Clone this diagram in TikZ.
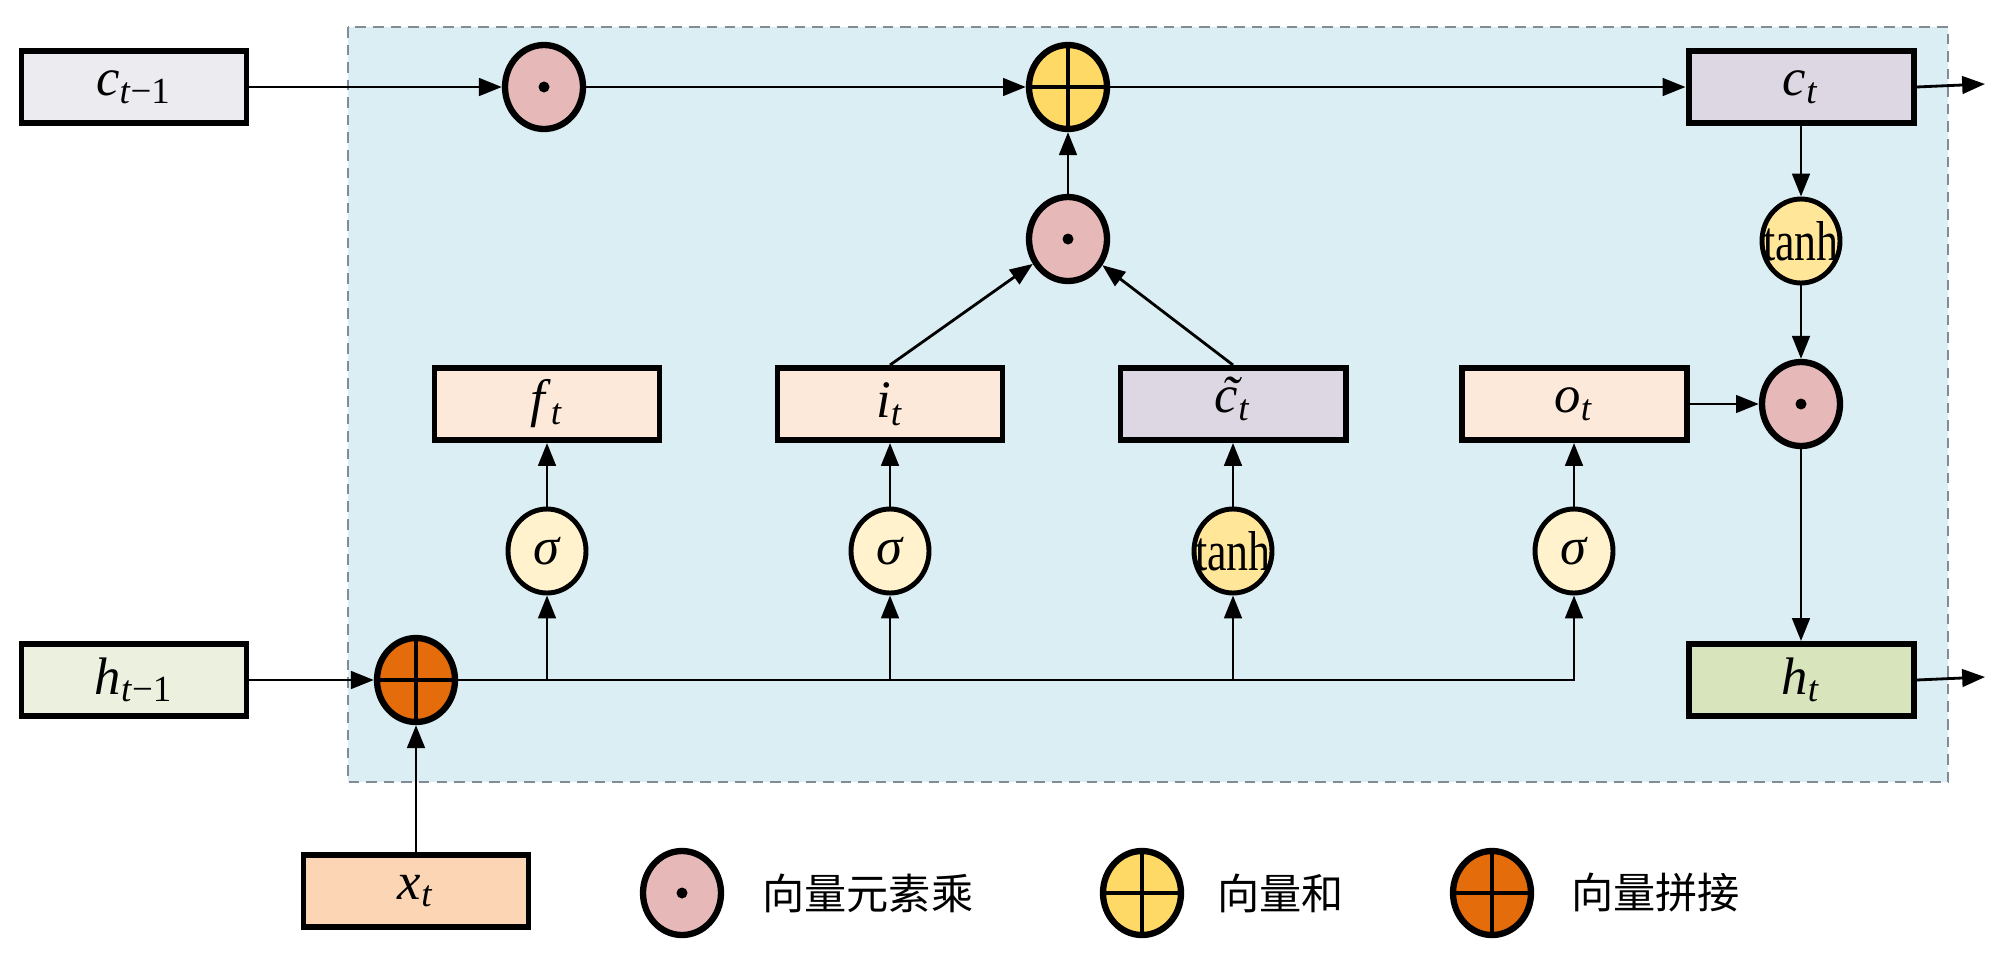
\documentclass[tikz,border=0pt]{standalone}
\usepackage{fontspec}
\setmainfont{Liberation Serif}
\newfontfamily\cjk{Noto Sans CJK SC}
\usepackage{graphicx}
\usetikzlibrary{arrows.meta, shapes.geometric}
\definecolor{lstmBg}{RGB}{218, 238, 243}
\definecolor{lstmGrey}{RGB}{130, 140, 150}
\definecolor{lstmCell}{RGB}{235, 235, 240}
\definecolor{lstmLav}{RGB}{221, 215, 228}
\definecolor{lstmPeach}{RGB}{253, 233, 217}
\definecolor{lstmInput}{RGB}{252, 213, 180}
\definecolor{lstmHidPrev}{RGB}{235, 241, 222}
\definecolor{lstmHid}{RGB}{215, 228, 188}
\definecolor{lstmPink}{RGB}{230, 185, 184}
\definecolor{lstmYellow}{RGB}{255, 217, 102}
\definecolor{lstmTanh}{RGB}{255, 230, 153}
\definecolor{lstmSig}{RGB}{255, 242, 204}
\definecolor{lstmOrange}{RGB}{228, 108, 10}
\newcommand{\gatevar}[2]{\textit{#1}\textsubscript{#2}}
\newcommand{\ctilde}{\ooalign{c\cr\hidewidth\kern0.12em ˜\hidewidth\cr}}
\newcommand{\tanhtxt}{\makebox[0pt]{\fontsize{16}{18}\selectfont\scalebox{0.78}[1]{tanh}}}

\begin{document}
\begin{tikzpicture}[every node/.style={font=\fontsize{15}{18}\selectfont},
    cellbox/.style={draw, line width=1.7pt, minimum width=2.25cm, minimum height=0.72cm},
    opnode/.style={ellipse, draw, line width=1.8pt, minimum width=0.78cm, minimum height=0.84cm, inner sep=0pt},
    mulop/.style={opnode, fill=lstmPink, path picture={\fill[black] (path picture bounding box.center) circle (0.055);}},
    addop/.style={opnode, fill=lstmYellow, path picture={\draw[black, line width=1.4pt] (path picture bounding box.north) -- (path picture bounding box.south) (path picture bounding box.west) -- (path picture bounding box.east);}},
    catop/.style={addop, fill=lstmOrange},
    actnode/.style={opnode, line width=1.4pt},
    flow/.style={line width=0.8pt, -{Triangle[length=6.5pt, width=5pt]}}]
    \useasboundingbox (0,0) rectangle (20,-9.61);
    \draw[lstmGrey, fill=lstmBg, line width=0.6pt, dash pattern=on 3pt off 2pt] (3.48,-0.27) rectangle (19.48,-7.82);

    % cell state row
    \node[cellbox, fill=lstmCell] (cprev) at (1.34,-0.87) {\gatevar{c}{\textit{t}−1}};
    \node[mulop] (mulf) at (5.44,-0.87) {};
    \node[addop] (addc) at (10.68,-0.87) {};
    \node[cellbox, fill=lstmLav] (cnow) at (18.01,-0.87) {\gatevar{c}{\textit{t}}};
    \node[mulop] (muli) at (10.68,-2.39) {};
    \node[actnode, fill=lstmTanh] (tanhc) at (18.01,-2.41) {\tanhtxt};

    % gates
    \node[cellbox, fill=lstmPeach] (fgate) at (5.47,-4.04) {\gatevar{f}{\textit{t}}};
    \node[cellbox, fill=lstmPeach] (igate) at (8.90,-4.04) {\gatevar{i}{\textit{t}}};
    \node[cellbox, fill=lstmLav] (cgate) at (12.33,-4.04) {\gatevar{\ctilde}{\textit{t}}};
    \node[cellbox, fill=lstmPeach] (ogate) at (15.74,-4.04) {\gatevar{o}{\textit{t}}};
    \node[mulop] (mulo) at (18.01,-4.04) {};
    \node[actnode, fill=lstmSig] (sigf) at (5.47,-5.51) {\textit{σ}};
    \node[actnode, fill=lstmSig] (sigi) at (8.90,-5.51) {\textit{σ}};
    \node[actnode, fill=lstmTanh] (tanhg) at (12.33,-5.51) {\tanhtxt};
    \node[actnode, fill=lstmSig] (sigo) at (15.74,-5.51) {\textit{σ}};

    % hidden row
    \node[cellbox, fill=lstmHidPrev] (hprev) at (1.34,-6.80) {\gatevar{h}{\textit{t}−1}};
    \node[catop] (cat) at (4.16,-6.80) {};
    \node[cellbox, fill=lstmHid] (hnow) at (18.01,-6.80) {\gatevar{h}{\textit{t}}};
    \node[cellbox, fill=lstmInput] (xin) at (4.16,-8.91) {\gatevar{x}{\textit{t}}};
    \coordinate (cout) at (19.85,-0.84);
    \coordinate (hout) at (19.85,-6.77);

    \draw[flow] (cprev) -- (mulf);
    \draw[flow] (mulf) -- (addc);
    \draw[flow] (addc) -- (cnow);
    \draw[flow] (cnow.east) -- (cout);
    \draw[flow] (muli) -- (addc);
    \draw[flow] (igate.north) -- (muli);
    \draw[flow] (cgate.north) -- (muli);
    \draw[flow] (cnow) -- (tanhc);
    \draw[flow] (tanhc) -- (mulo);
    \draw[flow] (ogate) -- (mulo);
    \draw[flow] (mulo) -- (hnow);
    \draw[flow] (hnow.east) -- (hout);
    \draw[flow] (hprev) -- (cat);
    \draw[flow] (xin) -- (cat);
    \draw[flow] (cat.east) -| (sigo);
    \foreach \g in {sigf, sigi, tanhg} \draw[flow] (\g |- cat) -- (\g);
    \draw[flow] (sigf) -- (fgate);
    \draw[flow] (sigi) -- (igate);
    \draw[flow] (tanhg) -- (cgate);
    \draw[flow] (sigo) -- (ogate);

    % legend
    \node[mulop] (legmul) at (6.82,-8.93) {};
    \node[anchor=west, font=\cjk\fontsize{12}{14}\selectfont] (legmultxt) at (7.50,-8.93) {向量元素乘};
    \node[addop] (legadd) at (11.42,-8.93) {};
    \node[anchor=west, font=\cjk\fontsize{12}{14}\selectfont] (legaddtxt) at (12.05,-8.93) {向量和};
    \node[catop] (legcat) at (14.92,-8.93) {};
    \node[anchor=west, font=\cjk\fontsize{12}{14}\selectfont] (legcattxt) at (15.59,-8.93) {向量拼接};
\end{tikzpicture}
\end{document}
